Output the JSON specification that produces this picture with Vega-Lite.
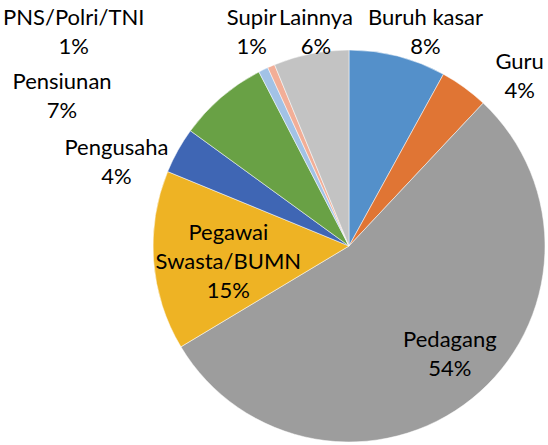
{
  "$schema": "https://vega.github.io/schema/vega-lite/v6.json",
  "width": 392,
  "height": 392,
  "autosize": "none",
  "padding": {"left": 153, "top": 50, "right": 3, "bottom": 3},
  "background": "white",
  "view": {"stroke": null},
  "data": {"values": [
    {"idx": 1, "cat": "Buruh kasar", "value": 8.0, "label": ["Buruh kasar", "8%"]},
    {"idx": 2, "cat": "Guru", "value": 4.0, "label": ["Guru", "4%"]},
    {"idx": 3, "cat": "Pedagang", "value": 54.4, "label": ["Pedagang", "54%"]},
    {"idx": 4, "cat": "Pegawai Swasta/BUMN", "value": 14.8, "label": ["Pegawai", "Swasta/BUMN", "15%"]},
    {"idx": 5, "cat": "Pengusaha", "value": 3.8, "label": ["Pengusaha", "4%"]},
    {"idx": 6, "cat": "Pensiunan", "value": 7.4, "label": ["Pensiunan", "7%"]},
    {"idx": 7, "cat": "PNS/Polri/TNI", "value": 0.8, "label": ["PNS/Polri/TNI", "1%"]},
    {"idx": 8, "cat": "Supir", "value": 0.6, "label": ["Supir", "1%"]},
    {"idx": 9, "cat": "Lainnya", "value": 6.2, "label": ["Lainnya", "6%"]}
  ]},
  "encoding": {
    "theta": {"field": "value", "type": "quantitative", "stack": true},
    "order": {"field": "idx", "type": "quantitative"}
  },
  "layer": [
    {
      "mark": {"type": "arc", "outerRadius": 196, "stroke": "#ffffff", "strokeWidth": 0.5},
      "encoding": {
        "color": {
          "field": "cat", "type": "nominal", "legend": null,
          "scale": {
            "domain": ["Buruh kasar", "Guru", "Pedagang", "Pegawai Swasta/BUMN", "Pengusaha", "Pensiunan", "PNS/Polri/TNI", "Supir", "Lainnya"],
            "range": ["#5490CA", "#E07534", "#9D9D9D", "#EEB324", "#3F66B4", "#69A145", "#A2C2E6", "#F2AE97", "#C3C3C3"]
          }
        }
      }
    },
    {
      "mark": {"type": "text", "radius": 227, "dx": 20, "dy": -8.5, "font": "Lato", "fontSize": 22, "lineHeight": 29, "color": "#000000", "align": "center", "baseline": "middle"},
      "encoding": {"text": {"condition": {"test": "datum.cat === 'Buruh kasar'", "field": "label", "type": "nominal"}, "value": ""}}
    },
    {
      "mark": {"type": "text", "radius": 241, "dx": 29, "dy": 10.5, "font": "Lato", "fontSize": 22, "lineHeight": 29, "color": "#000000", "align": "center", "baseline": "middle"},
      "encoding": {"text": {"condition": {"test": "datum.cat === 'Guru'", "field": "label", "type": "nominal"}, "value": ""}}
    },
    {
      "mark": {"type": "text", "radius": 148, "dx": 8, "dy": -21.5, "font": "Lato", "fontSize": 22, "lineHeight": 29, "color": "#000000", "align": "center", "baseline": "middle"},
      "encoding": {"text": {"condition": {"test": "datum.cat === 'Pedagang'", "field": "label", "type": "nominal"}, "value": ""}}
    },
    {
      "mark": {"type": "text", "radius": 122, "dx": 1, "dy": -22, "font": "Lato", "fontSize": 22, "lineHeight": 29, "color": "#000000", "align": "center", "baseline": "middle"},
      "encoding": {"text": {"condition": {"test": "datum.cat === 'Pegawai Swasta/BUMN'", "field": "label", "type": "nominal"}, "value": ""}}
    },
    {
      "mark": {"type": "text", "radius": 248, "dx": -16, "dy": 22.5, "font": "Lato", "fontSize": 22, "lineHeight": 29, "color": "#000000", "align": "center", "baseline": "middle"},
      "encoding": {"text": {"condition": {"test": "datum.cat === 'Pengusaha'", "field": "label", "type": "nominal"}, "value": ""}}
    },
    {
      "mark": {"type": "text", "radius": 250, "dx": -124, "dy": 25.5, "font": "Lato", "fontSize": 22, "lineHeight": 29, "color": "#000000", "align": "center", "baseline": "middle"},
      "encoding": {"text": {"condition": {"test": "datum.cat === 'Pensiunan'", "field": "label", "type": "nominal"}, "value": ""}}
    },
    {
      "mark": {"type": "text", "radius": 250, "dx": -166, "dy": -3.5, "font": "Lato", "fontSize": 22, "lineHeight": 29, "color": "#000000", "align": "center", "baseline": "middle"},
      "encoding": {"text": {"condition": {"test": "datum.cat === 'PNS/Polri/TNI'", "field": "label", "type": "nominal"}, "value": ""}}
    },
    {
      "mark": {"type": "text", "radius": 235, "dx": -4, "dy": -12.5, "font": "Lato", "fontSize": 22, "lineHeight": 29, "color": "#000000", "align": "center", "baseline": "middle"},
      "encoding": {"text": {"condition": {"test": "datum.cat === 'Supir'", "field": "label", "type": "nominal"}, "value": ""}}
    },
    {
      "mark": {"type": "text", "radius": 217, "dx": 9, "dy": -15.5, "font": "Lato", "fontSize": 22, "lineHeight": 29, "color": "#000000", "align": "center", "baseline": "middle"},
      "encoding": {"text": {"condition": {"test": "datum.cat === 'Lainnya'", "field": "label", "type": "nominal"}, "value": ""}}
    }
  ]
}
